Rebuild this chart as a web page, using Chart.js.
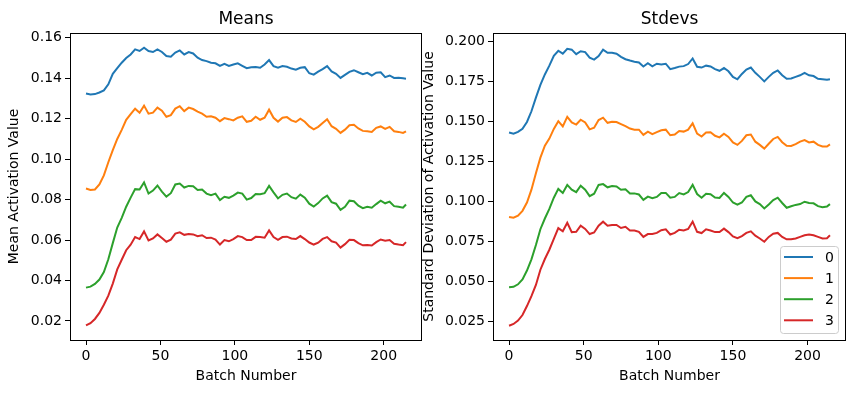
<!DOCTYPE html>
<html lang="en">
<head>
  <meta charset="UTF-8">
  <title>Means and Stdevs</title>
  <script src="https://cdn.jsdelivr.net/npm/chart.js"></script>
  <style>
    body { margin: 0; background: #fff; }
    #wrap { position: relative; width: 855px; height: 393px; }
    canvas { position: absolute; top: 0; }
  </style>
</head>
<body>
<div id="wrap">
  <canvas id="meansChart" width="430" height="393" style="left:0"></canvas>
  <canvas id="stdevChart" width="440" height="393" style="left:415px"></canvas>
</div>
<script>
  // batch numbers (sampled every 3 batches)
  const batches = [
    0, 3, 6, 9, 12, 15, 18, 21, 24, 27, 30, 33,
    36, 39, 42, 45, 48, 51, 54, 57, 60, 63, 66, 69,
    72, 75, 78, 81, 84, 87, 90, 93, 96, 99, 102, 105,
    108, 111, 114, 117, 120, 123, 126, 129, 132, 135, 138, 141,
    144, 147, 150, 153, 156, 159, 162, 165, 168, 171, 174, 177,
    180, 183, 186, 189, 192, 195, 198, 201, 204, 207, 210, 213,
    215
  ];
  const seriesNames = ['0', '1', '2', '3'];
  const colors = ['#1f77b4', '#ff7f0e', '#2ca02c', '#d62728'];

  // Means
  const means0 = [
    0.1325, 0.1320, 0.1322, 0.1330, 0.1340, 0.1370, 0.1422, 0.1450, 0.1477, 0.1500, 0.1518, 0.1543,
    0.1535, 0.1551, 0.1535, 0.1530, 0.1543, 0.1530, 0.1510, 0.1507, 0.1527, 0.1538, 0.1518, 0.1530,
    0.1523, 0.1502, 0.1490, 0.1485, 0.1477, 0.1474, 0.1461, 0.1471, 0.1461, 0.1468, 0.1474, 0.1462,
    0.1450, 0.1455, 0.1456, 0.1452, 0.1468, 0.1490, 0.1460, 0.1453, 0.1461, 0.1457, 0.1448, 0.1443,
    0.1452, 0.1455, 0.1425, 0.1418, 0.1433, 0.1445, 0.1460, 0.1434, 0.1422, 0.1402, 0.1417, 0.1432,
    0.1440, 0.1430, 0.1420, 0.1427, 0.1414, 0.1428, 0.1430, 0.1406, 0.1414, 0.1402, 0.1403, 0.1400,
    0.1398
  ];
  const means1 = [
    0.0855, 0.0848, 0.0850, 0.0875, 0.0920, 0.0985, 0.1045, 0.1100, 0.1145, 0.1195, 0.1223, 0.1250,
    0.1230, 0.1265, 0.1225, 0.1230, 0.1255, 0.1240, 0.1210, 0.1218, 0.1250, 0.1262, 0.1238, 0.1255,
    0.1248, 0.1235, 0.1225, 0.1210, 0.1212, 0.1205, 0.1188, 0.1203, 0.1198, 0.1192, 0.1205, 0.1212,
    0.1185, 0.1190, 0.1210, 0.1195, 0.1205, 0.1245, 0.1205, 0.1186, 0.1205, 0.1208, 0.1192, 0.1184,
    0.1200, 0.1185, 0.1162, 0.1148, 0.1160, 0.1179, 0.1198, 0.1163, 0.1150, 0.1130, 0.1146, 0.1168,
    0.1170, 0.1152, 0.1140, 0.1138, 0.1135, 0.1155, 0.1162, 0.1150, 0.1160, 0.1138, 0.1135, 0.1130,
    0.1138
  ];
  const means2 = [
    0.0365, 0.0370, 0.0383, 0.0405, 0.0442, 0.0505, 0.0585, 0.0662, 0.0710, 0.0765, 0.0810, 0.0852,
    0.0850, 0.0885, 0.0830, 0.0845, 0.0870, 0.0840, 0.0815, 0.0832, 0.0875, 0.0880, 0.0860, 0.0868,
    0.0866, 0.0848, 0.0850, 0.0830, 0.0822, 0.0830, 0.0798, 0.0814, 0.0809, 0.0820, 0.0835, 0.0830,
    0.0800, 0.0808, 0.0828, 0.0827, 0.0832, 0.0868, 0.0836, 0.0806, 0.0824, 0.0830, 0.0812, 0.0805,
    0.0825, 0.0810, 0.0780, 0.0766, 0.0783, 0.0806, 0.0820, 0.0788, 0.0780, 0.0750, 0.0765, 0.0795,
    0.0792, 0.0770, 0.0758, 0.0765, 0.0760, 0.0778, 0.0795, 0.0782, 0.0790, 0.0768, 0.0765, 0.0760,
    0.0776
  ];
  const means3 = [
    0.0178, 0.0189, 0.0210, 0.0240, 0.0280, 0.0325, 0.0385, 0.0455, 0.0503, 0.0550, 0.0577, 0.0615,
    0.0605, 0.0643, 0.0598, 0.0608, 0.0628, 0.0610, 0.0592, 0.0602, 0.0632, 0.0638, 0.0626, 0.0630,
    0.0628, 0.0619, 0.0624, 0.0610, 0.0612, 0.0603, 0.0578, 0.0600, 0.0594, 0.0605, 0.0620, 0.0615,
    0.0600, 0.0600, 0.0616, 0.0615, 0.0612, 0.0648, 0.0615, 0.0601, 0.0615, 0.0617, 0.0608, 0.0605,
    0.0620, 0.0605, 0.0588, 0.0578, 0.0587, 0.0606, 0.0615, 0.0594, 0.0588, 0.0563, 0.0580, 0.0602,
    0.0600, 0.0585, 0.0574, 0.0576, 0.0573, 0.0590, 0.0603, 0.0597, 0.0600, 0.0582, 0.0578, 0.0575,
    0.0590
  ];

  // Stdevs
  const stdevs0 = [
    0.1432, 0.1425, 0.1436, 0.1455, 0.1498, 0.1565, 0.1650, 0.1730, 0.1795, 0.1850, 0.1912, 0.1943,
    0.1925, 0.1955, 0.1950, 0.1922, 0.1940, 0.1935, 0.1900, 0.1888, 0.1910, 0.1950, 0.1930, 0.1930,
    0.1925, 0.1905, 0.1890, 0.1882, 0.1875, 0.1870, 0.1845, 0.1865, 0.1846, 0.1862, 0.1857, 0.1862,
    0.1828, 0.1835, 0.1844, 0.1847, 0.1860, 0.1895, 0.1843, 0.1838, 0.1850, 0.1845, 0.1828, 0.1818,
    0.1835, 0.1815, 0.1780, 0.1765, 0.1798, 0.1825, 0.1838, 0.1805, 0.1780, 0.1752, 0.1780, 0.1805,
    0.1820, 0.1790, 0.1768, 0.1770, 0.1780, 0.1790, 0.1805, 0.1790, 0.1785, 0.1768, 0.1765, 0.1762,
    0.1765
  ];
  const stdevs1 = [
    0.0905, 0.0900, 0.0913, 0.0943, 0.0995, 0.1075, 0.1178, 0.1275, 0.1350, 0.1394, 0.1455, 0.1503,
    0.1470, 0.1530, 0.1495, 0.1482, 0.1512, 0.1495, 0.1452, 0.1462, 0.1510, 0.1525, 0.1493, 0.1500,
    0.1498, 0.1485, 0.1472, 0.1457, 0.1450, 0.1450, 0.1418, 0.1438, 0.1422, 0.1435, 0.1446, 0.1450,
    0.1415, 0.1420, 0.1442, 0.1438, 0.1450, 0.1490, 0.1425, 0.1407, 0.1432, 0.1434, 0.1412, 0.1402,
    0.1425, 0.1405, 0.1370, 0.1355, 0.1380, 0.1415, 0.1420, 0.1375, 0.1355, 0.1332, 0.1362, 0.1392,
    0.1405, 0.1372, 0.1350, 0.1348, 0.1360, 0.1375, 0.1385, 0.1370, 0.1375, 0.1355, 0.1345, 0.1345,
    0.1358
  ];
  const stdevs2 = [
    0.0465, 0.0468, 0.0484, 0.0515, 0.0570, 0.0640, 0.0730, 0.0828, 0.0895, 0.0955, 0.1025, 0.1080,
    0.1055, 0.1105, 0.1075, 0.1060, 0.1100, 0.1075, 0.1035, 0.1050, 0.1105, 0.1110, 0.1090, 0.1098,
    0.1095, 0.1075, 0.1078, 0.1052, 0.1052, 0.1045, 0.1012, 0.1032, 0.1022, 0.1030, 0.1055, 0.1055,
    0.1025, 0.1030, 0.1054, 0.1045, 0.1060, 0.1105, 0.1048, 0.1025, 0.1050, 0.1047, 0.1026, 0.1023,
    0.1055, 0.1030, 0.0995, 0.0982, 0.0995, 0.1030, 0.1040, 0.1002, 0.0985, 0.0958, 0.0983, 0.1010,
    0.1025, 0.0992, 0.0962, 0.0972, 0.0980, 0.0985, 0.1000, 0.0992, 0.0990, 0.0972, 0.0965, 0.0970,
    0.0985
  ];
  const stdevs3 = [
    0.0225, 0.0236, 0.0257, 0.0292, 0.0348, 0.0410, 0.0480, 0.0575, 0.0642, 0.0700, 0.0768, 0.0835,
    0.0815, 0.0868, 0.0810, 0.0812, 0.0850, 0.0830, 0.0798, 0.0808, 0.0850, 0.0875, 0.0850, 0.0855,
    0.0855, 0.0836, 0.0843, 0.0820, 0.0820, 0.0812, 0.0780, 0.0798, 0.0798, 0.0805, 0.0822, 0.0828,
    0.0795, 0.0805, 0.0825, 0.0820, 0.0830, 0.0875, 0.0812, 0.0804, 0.0828, 0.0820, 0.0810, 0.0811,
    0.0832, 0.0810, 0.0783, 0.0772, 0.0785, 0.0805, 0.0815, 0.0788, 0.0770, 0.0750, 0.0780, 0.0800,
    0.0805, 0.0780, 0.0765, 0.0765, 0.0770, 0.0780, 0.0790, 0.0795, 0.0790, 0.0780, 0.0770, 0.0772,
    0.0790
  ];

  // tick labels
  const batchTicks = [0, 50, 100, 150, 200];
  const meanTicks = [0.02, 0.04, 0.06, 0.08, 0.10, 0.12, 0.14, 0.16];
  const stdevTicks = [0.025, 0.050, 0.075, 0.100, 0.125, 0.150, 0.175, 0.200];

  Chart.defaults.font.family = "'DejaVu Sans', sans-serif";
  Chart.defaults.font.size = 14;
  Chart.defaults.color = '#000';
  Chart.defaults.animation = false;

  function makeDatasets(seriesList) {
    return seriesList.map((vals, i) => ({
      label: seriesNames[i],
      data: batches.map((b, j) => ({ x: b, y: vals[j] })),
      borderColor: colors[i],
      borderWidth: 2,
      pointRadius: 0,
      tension: 0,
      fill: false
    }));
  }

  // box around the plot, title above it, optional legend inside
  const framePlugin = {
    id: 'frame',
    afterDraw(chart, args, opts) {
      const { ctx, chartArea: a } = chart;
      ctx.save();
      ctx.strokeStyle = '#000';
      ctx.lineWidth = 1;
      ctx.strokeRect(Math.round(a.left) + 0.5, Math.round(a.top) + 0.5,
        Math.round(a.right - a.left) - 1, Math.round(a.bottom - a.top));
      ctx.fillStyle = '#000';
      ctx.font = "17px 'DejaVu Sans', sans-serif";
      ctx.textAlign = 'center';
      ctx.textBaseline = 'alphabetic';
      ctx.fillText(opts.title, (a.left + a.right) / 2, 24);

      if (opts.legend) {
        const bx = a.right - 66, by = a.bottom - 94, bw = 58, bh = 87;
        ctx.beginPath();
        ctx.roundRect(bx + 0.5, by + 0.5, bw, bh, 3);
        ctx.fillStyle = 'rgba(255,255,255,0.8)';
        ctx.fill();
        ctx.strokeStyle = '#cccccc';
        ctx.stroke();
        ctx.font = "14px 'DejaVu Sans', sans-serif";
        ctx.textAlign = 'left';
        ctx.textBaseline = 'middle';
        seriesNames.forEach((name, i) => {
          const y = by + 11 + i * 21.1;
          ctx.beginPath();
          ctx.moveTo(bx + 4, y);
          ctx.lineTo(bx + 33, y);
          ctx.strokeStyle = colors[i];
          ctx.lineWidth = 2;
          ctx.stroke();
          ctx.fillStyle = '#000';
          ctx.fillText(name, bx + 45, y + 1);
        });
      }
      ctx.restore();
    }
  };

  function makeChart(id, seriesList, yTicks, digits, yMin, yMax, yTitle, yWidth, padRight, legend, title) {
    return new Chart(document.getElementById(id), {
      type: 'line',
      data: { datasets: makeDatasets(seriesList) },
      options: {
        responsive: false,
        devicePixelRatio: 1,
        layout: { padding: { top: 33, right: padRight, left: 0, bottom: 0 } },
        plugins: {
          legend: { display: false },
          tooltip: { enabled: false },
          frame: { title: title, legend: legend }
        },
        scales: {
          x: {
            type: 'linear',
            min: -10.75,
            max: 225.75,
            afterBuildTicks: s => { s.ticks = batchTicks.map(v => ({ value: v })); },
            afterFit: s => { s.height = 53; },
            grid: { display: true, drawOnChartArea: false, drawTicks: true, tickLength: 5, color: '#000' },
            border: { display: false },
            ticks: { padding: 3, autoSkip: false, maxRotation: 0, callback: v => String(v) },
            title: { display: true, text: 'Batch Number', padding: { top: 0, bottom: 8 } }
          },
          y: {
            type: 'linear',
            min: yMin,
            max: yMax,
            afterBuildTicks: s => { s.ticks = yTicks.map(v => ({ value: v })); },
            afterFit: s => { s.width = yWidth; },
            grid: { display: true, drawOnChartArea: false, drawTicks: true, tickLength: 5, color: '#000' },
            border: { display: false },
            ticks: { padding: 3, autoSkip: false, callback: v => v.toFixed(digits) },
            title: { display: true, text: yTitle, padding: { top: 6, bottom: 0 } }
          }
        }
      },
      plugins: [framePlugin]
    });
  }

  makeChart('meansChart', [means0, means1, means2, means3], meanTicks, 2,
    0.0106, 0.1624, 'Mean Activation Value', 70, 8, false, 'Means');
  makeChart('stdevChart', [stdevs0, stdevs1, stdevs2, stdevs3], stdevTicks, 3,
    0.0136, 0.2054, 'Standard Deviation of Activation Value', 78, 9, true, 'Stdevs');
</script>
</body>
</html>
